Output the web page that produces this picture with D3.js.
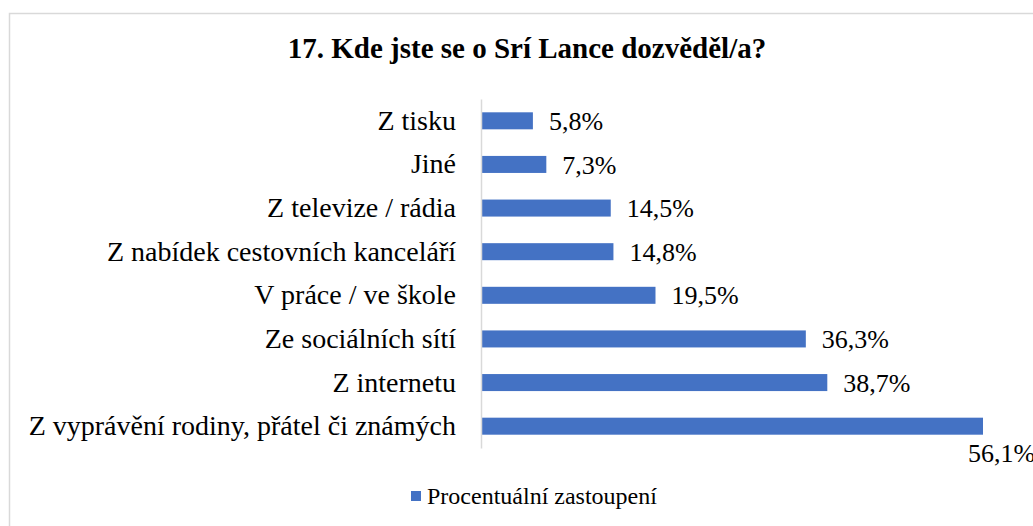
<!DOCTYPE html>
<html>
<head>
<meta charset="utf-8">
<script src="https://cdn.jsdelivr.net/npm/d3@7"></script>
<style>
	body { margin: 0; background: #fff; }
	svg text { font-family: "Liberation Serif", "Times New Roman", serif; fill: #000; }
</style>
</head>
<body>
<div id="chart_container"></div>
<script>
// data
// ----------------------------------------
var categories = [
	"Z tisku",
	"Jiné",
	"Z televize / rádia",
	"Z nabídek cestovních kanceláří",
	"V práce / ve škole",
	"Ze sociálních sítí",
	"Z internetu",
	"Z vyprávění rodiny, přátel či známých"
];
var values = [5.8, 7.3, 14.5, 14.8, 19.5, 36.3, 38.7, 56.1];
var series_name = "Procentuální zastoupení";
var title = "17. Kde jste se o Srí Lance dozvěděl/a?";

// main variables
// ----------------------------------------
var width = 1033,
height = 526;

var margin = {top: 99, left: 481, bottom: 78},
plot_w = 502,
plot_h = height - margin.top - margin.bottom;

var bar_color = "#4472C4";
var serif = '"Liberation Serif", "Times New Roman", serif';

var svg = d3.select("#chart_container")
	.append("svg")
	.attr("width", width)
	.attr("height", height);

// chart frame
svg.append("rect")
	.attr("x", 9.5)
	.attr("y", 13.5)
	.attr("width", 1100)
	.attr("height", 600)
	.attr("fill", "none")
	.attr("stroke", "#d9d9d9")
	.attr("stroke-width", 1.5);

svg.append("text")
	.attr("x", 527)
	.attr("y", 58)
	.attr("text-anchor", "middle")
	.style("font-family", serif)
	.style("font-size", "29px")
	.style("font-weight", "bold")
	.text(title);

var plot = svg.append("g")
	.attr("transform", "translate(" + margin.left + "," + margin.top + ")");

var x = d3.scaleLinear()
	.domain([0, 56.1])
	.range([0, plot_w]);

var y = d3.scaleBand()
	.domain(categories)
	.range([0, plot_h])
	.paddingInner(0.61)
	.paddingOuter(0.305);

// bars
plot.selectAll(".bar")
	.data(values)
	.enter()
	.append("rect")
	.attr("class", "bar")
	.attr("x", 0)
	.attr("y", function(d, i) { return y(categories[i]); })
	.attr("width", function(d) { return x(d); })
	.attr("height", y.bandwidth())
	.attr("fill", bar_color);

// vertical axis
var axis = plot.append("g")
	.call(d3.axisLeft(y).tickSize(0).tickPadding(25));
axis.attr("font-family", null).attr("font-size", null);
axis.select(".domain")
	.attr("stroke", "#d9d9d9")
	.attr("stroke-width", 1.5);
axis.selectAll("text")
	.style("font-family", serif)
	.style("font-size", "28px")
	.attr("fill", "#000");

// value labels (last one does not fit and drops below the bar)
plot.selectAll(".val")
	.data(values)
	.enter()
	.append("text")
	.attr("class", "val")
	.attr("x", function(d) {
		return x(d) > plot_w - 60 ? x(d) - 15 : x(d) + 16;
	})
	.attr("y", function(d, i) {
		var c = y(categories[i]) + y.bandwidth() / 2;
		return x(d) > plot_w - 60 ? c + 27 : c;
	})
	.attr("dy", "0.35em")
	.style("font-family", serif)
	.style("font-size", "26px")
	.text(function(d) { return d3.format(".1f")(d).replace(".", ",") + "%"; });

// legend
var legend = svg.append("g")
	.attr("transform", "translate(411,491)");
legend.append("rect")
	.attr("width", 10)
	.attr("height", 10)
	.attr("fill", bar_color);
legend.append("text")
	.attr("x", 16)
	.attr("y", 5)
	.attr("dy", "0.35em")
	.style("font-family", serif)
	.style("font-size", "24px")
	.text(series_name);
</script>
</body>
</html>
